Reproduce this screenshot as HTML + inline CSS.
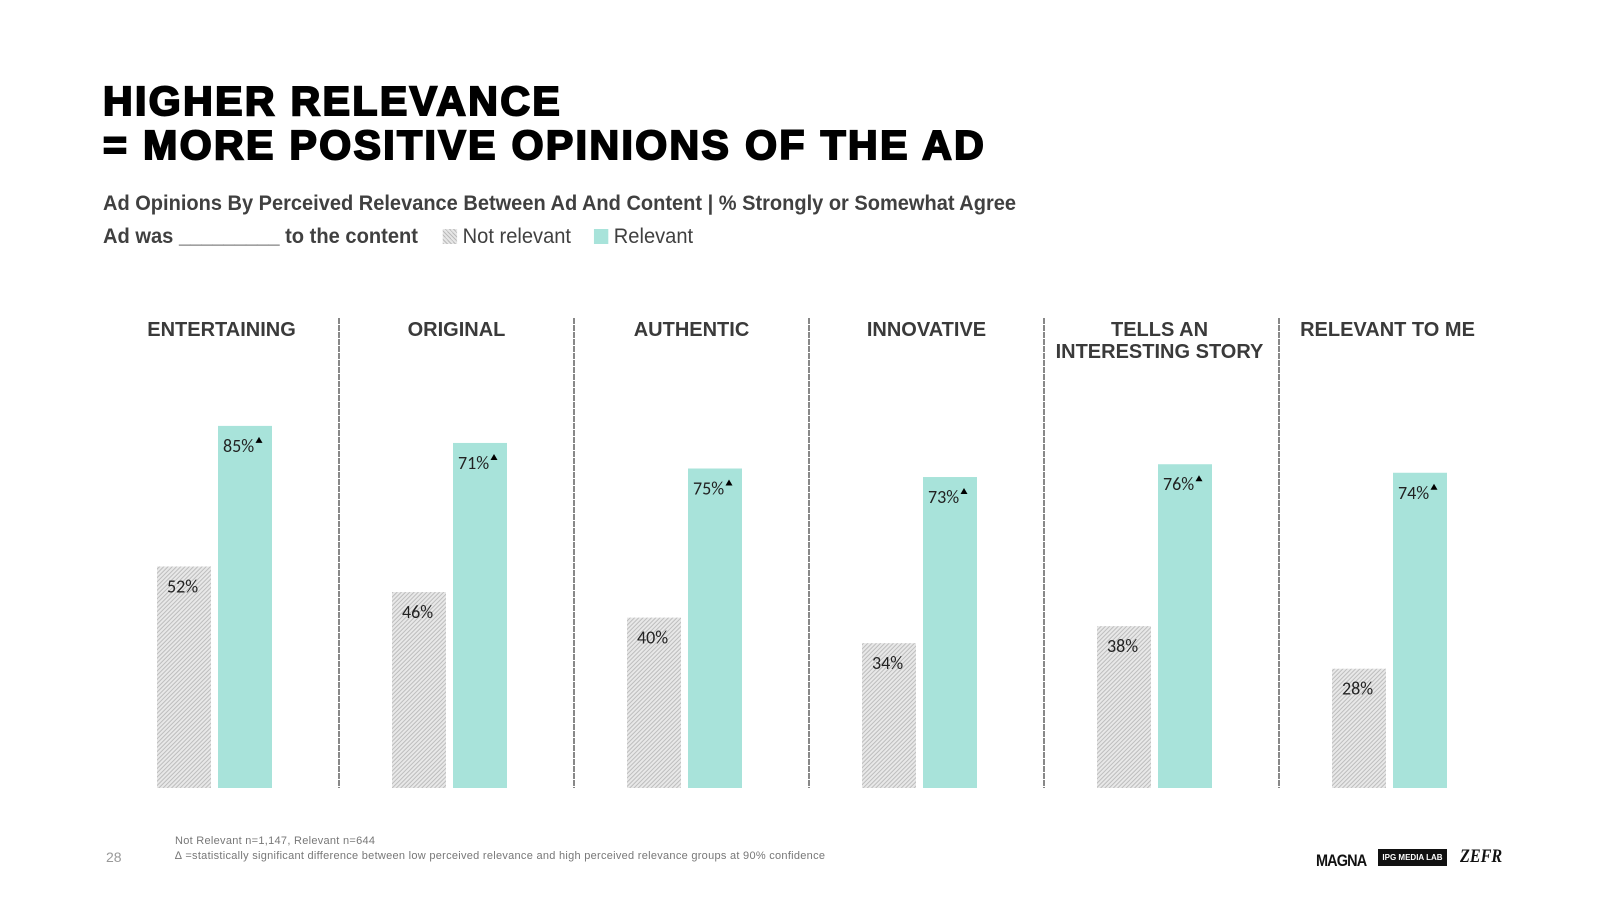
<!DOCTYPE html>
<html><head><meta charset="utf-8"><style>
body{margin:0;background:#fff;}
#wrap{position:relative;width:1600px;height:900px;overflow:hidden;font-family:"Liberation Sans",sans-serif;}
.t{position:absolute;white-space:nowrap;}
</style></head><body>
<div id="wrap">
<div class="t" style="left:103px;top:79px;font-size:41px;font-weight:900;line-height:44px;letter-spacing:2.4px;-webkit-text-stroke:2px #000;color:#000;">HIGHER RELEVANCE<br>= MORE POSITIVE OPINIONS OF THE AD</div>
<div class="t" style="left:103px;top:192px;font-weight:bold;font-size:21px;color:#404040;transform:scaleX(0.953);transform-origin:0 0;">Ad Opinions By Perceived Relevance Between Ad And Content | % Strongly or Somewhat Agree</div>
<div class="t" style="left:103px;top:225px;font-size:21px;color:#404040;transform:scaleX(0.957);transform-origin:0 0;">
<b>Ad was _________ to the content</b>
<span style="display:inline-block;width:15px;height:15px;margin-left:20px;vertical-align:-1px;background:repeating-linear-gradient(45deg,#bbb 0 1px,#e6e6e6 1px 3px);"></span>
<span>Not relevant</span>
<span style="display:inline-block;width:15px;height:15px;margin-left:18px;vertical-align:-1px;background:#a8e3da;"></span>
<span>Relevant</span>
</div>
<svg id="chart" width="1600" height="900" style="position:absolute;left:0;top:0">
<defs><pattern id="hatch" width="3" height="3" patternUnits="userSpaceOnUse" patternTransform="rotate(45)"><rect width="3" height="3" fill="#e8e8e8"/><rect width="1" height="3" fill="#bdbdbd"/></pattern></defs>
</svg>
<div class="t" style="left:175px;top:834px;font-size:11px;line-height:15px;color:#777;letter-spacing:0.28px;">Not Relevant n=1,147, Relevant n=644<br>∆ =statistically significant difference between low perceived relevance and high perceived relevance groups at 90% confidence</div>
<div class="t" style="left:106px;top:849px;font-size:14px;color:#999;">28</div>
<div class="t" style="left:1316px;top:851px;font-size:17px;font-weight:900;color:#111;letter-spacing:-1px;transform:scaleX(0.85);transform-origin:0 0;">MAGNA</div>
<div class="t" style="left:1378px;top:849px;width:69px;height:17px;background:#111;color:#fff;font-size:8px;font-weight:bold;text-align:center;line-height:17px;">IPG MEDIA LAB</div>
<div class="t" style="left:1460px;top:846px;font-size:19px;font-weight:bold;font-style:italic;font-family:'Liberation Serif',serif;color:#111;transform:scaleX(0.85);transform-origin:0 0;">ZEFR</div>
</div>
<script>
const categories=["ENTERTAINING","ORIGINAL","AUTHENTIC","INNOVATIVE","TELLS AN|INTERESTING STORY","RELEVANT TO ME"];
const notRelevant=[52,46,40,34,38,28];
const relevant=[85,81,75,73,76,74];
const relevantLabels=["85%","71%","75%","73%","76%","74%"];
const significant=[true,true,true,true,true,true];
const svg=document.getElementById('chart');
const NS='http://www.w3.org/2000/svg';
const base=788, pxPer=4.26, x0=157, step=235, bw=54, gap=61;
const y=v=>base-v*pxPer;
function mk(t,a){const e=document.createElementNS(NS,t);for(const k in a)e.setAttribute(k,a[k]);svg.appendChild(e);return e;}
categories.forEach((c,i)=>{
  const gx=x0+i*step;
  const cx=gx+(gap+bw)/2+7-(i===5?9:0)-(i===4?2:0);
  const lines=c.split('|');
  lines.forEach((ln,j)=>{
    const t=mk('text',{x:cx,y:336+j*22,'text-anchor':'middle','font-size':'20','font-weight':'bold','font-family':'Liberation Sans, sans-serif',fill:'#3a3a3a'});
    t.textContent=ln;
    
    
  });
  if(i>0){
    const d=mk('line',{x1:gx-53,x2:gx-53,y1:318,y2:base,stroke:'#888','stroke-width':'2','stroke-dasharray':'6 1'});
    
    
  }
  const b1=mk('rect',{x:gx,y:y(notRelevant[i]),width:bw,height:notRelevant[i]*pxPer,fill:'url(#hatch)'});
  
  
  const l1=mk('text',{x:gx+10,y:y(notRelevant[i])+26,'font-size':'18','font-family':'Carlito, Liberation Sans, sans-serif',fill:'#222'});
  l1.textContent=notRelevant[i]+'%';
  
  
  const b2=mk('rect',{x:gx+gap,y:y(relevant[i]),width:bw,height:relevant[i]*pxPer,fill:'#a8e3da'});
  
  
  const l2=mk('text',{x:gx+gap+5,y:y(relevant[i])+26,'font-size':'18','font-family':'Carlito, Liberation Sans, sans-serif',fill:'#222'});
  l2.textContent=relevantLabels[i];
  
  
  if(significant[i]){
    const tx=gx+gap+41, ty=y(relevant[i])+12;
    const tri=mk('polygon',{points:`${tx-3.5},${ty+5} ${tx+3.5},${ty+5} ${tx},${ty-1}`,fill:'#000'});
    
    
  }
});
</script>
</body></html>
